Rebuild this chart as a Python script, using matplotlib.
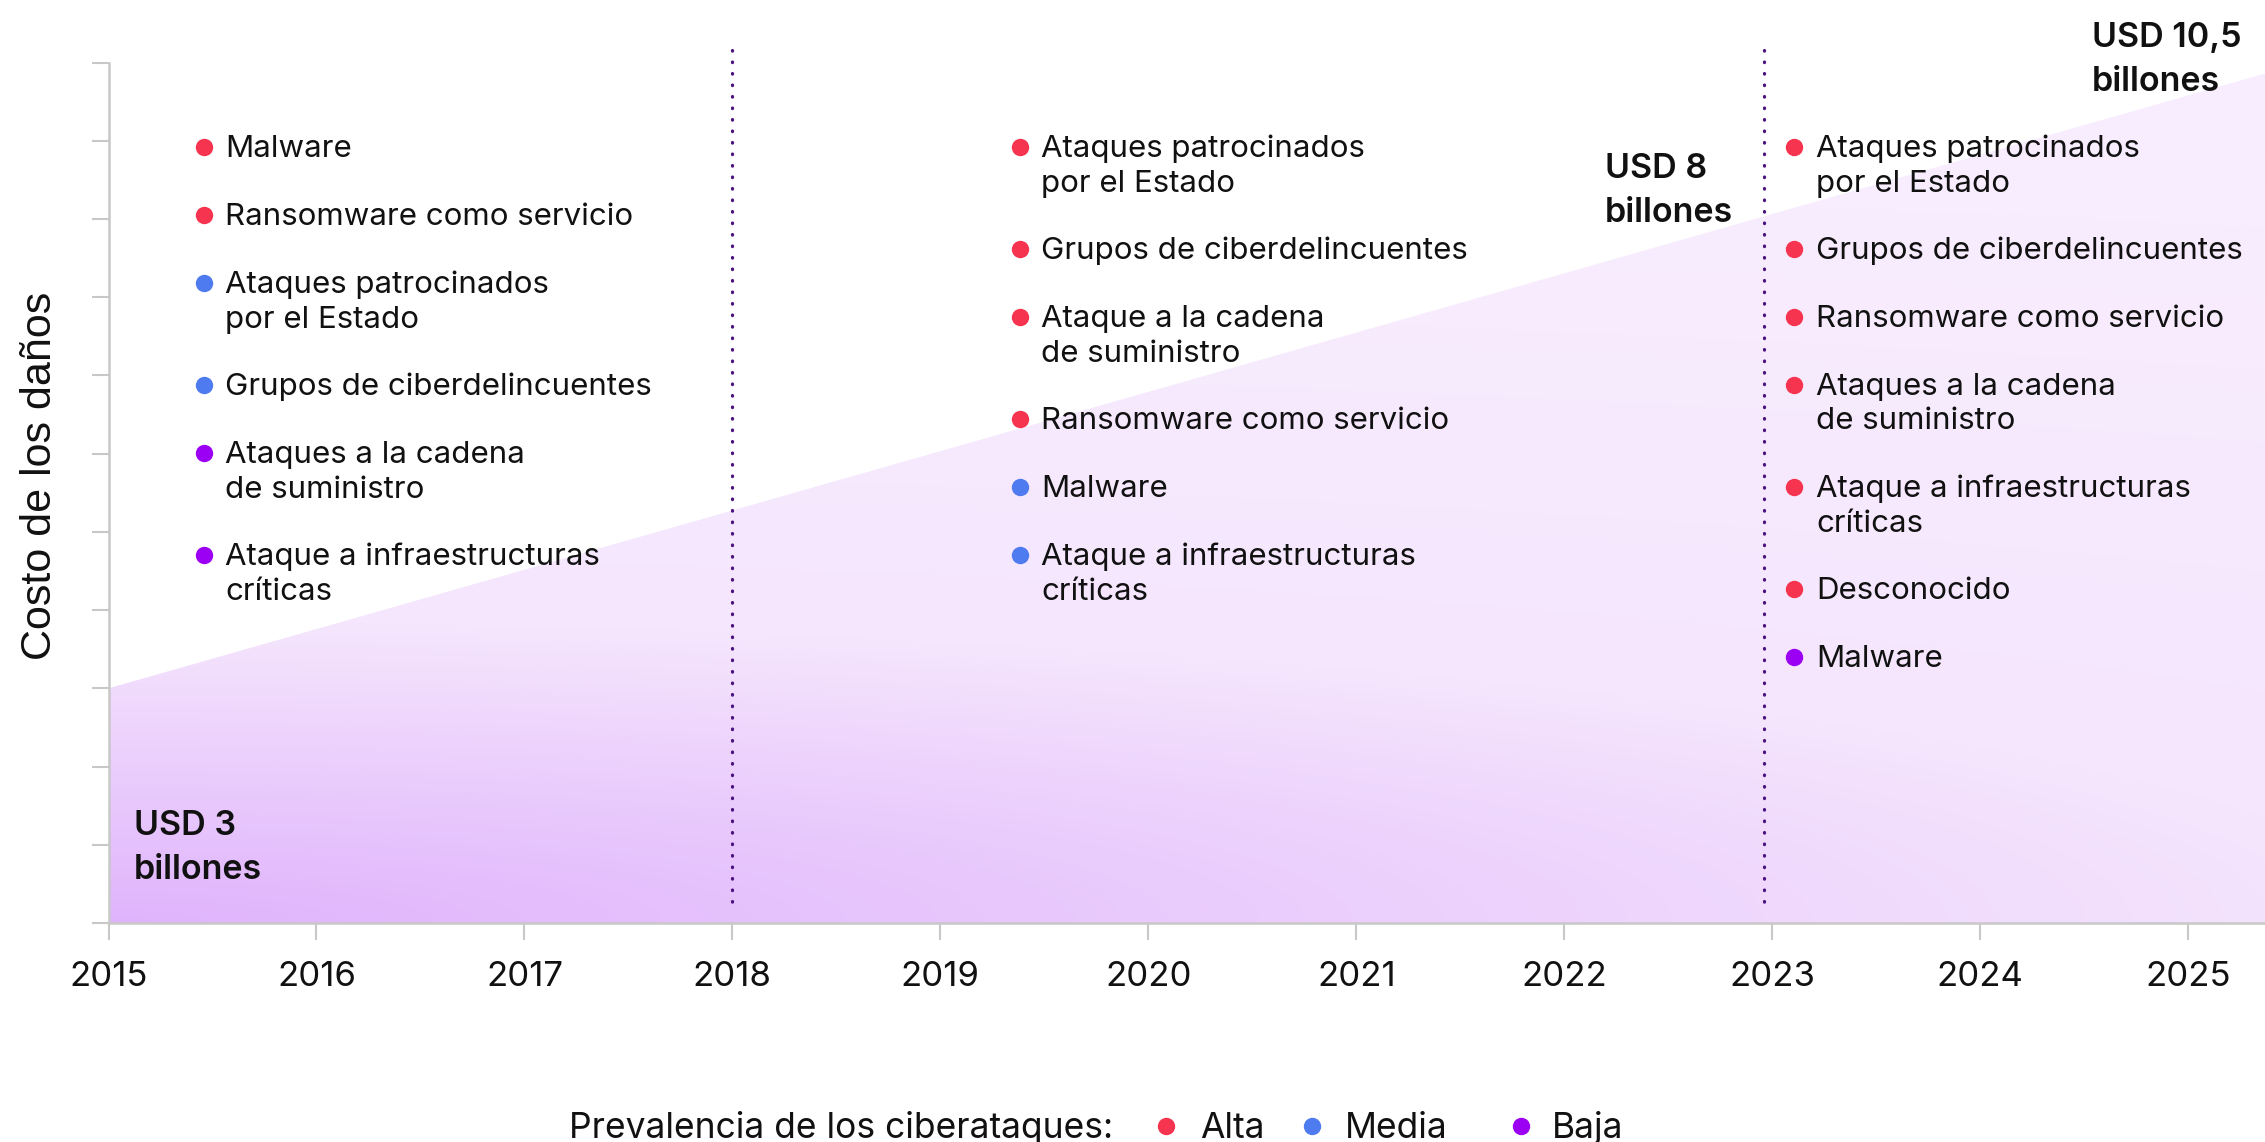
import numpy as np
import matplotlib
matplotlib.use("Agg")
import matplotlib.pyplot as plt
from matplotlib.patches import Polygon

plt.rcParams["font.family"] = ["Inter", "DejaVu Sans"]

# Data
years = list(range(2015, 2026))
area_years = [2015, 2025.37]
area_cost = [3.0, 10.86]
period_marks = [2018.0, 2022.96]

cost_labels = ["USD 3\nbillones", "USD 8\nbillones", "USD 10,5\nbillones"]

col1_items = [
    "Malware",
    "Ransomware como servicio",
    "Ataques patrocinados\npor el Estado",
    "Grupos de ciberdelincuentes",
    "Ataques a la cadena\nde suministro",
    "Ataque a infraestructuras\ncríticas",
]
col1_levels = ["Alta", "Alta", "Media", "Media", "Baja", "Baja"]

col2_items = [
    "Ataques patrocinados\npor el Estado",
    "Grupos de ciberdelincuentes",
    "Ataque a la cadena\nde suministro",
    "Ransomware como servicio",
    "Malware",
    "Ataque a infraestructuras\ncríticas",
]
col2_levels = ["Alta", "Alta", "Alta", "Alta", "Media", "Media"]

col3_items = [
    "Ataques patrocinados\npor el Estado",
    "Grupos de ciberdelincuentes",
    "Ransomware como servicio",
    "Ataques a la cadena\nde suministro",
    "Ataque a infraestructuras\ncríticas",
    "Desconocido",
    "Malware",
]
col3_levels = ["Alta", "Alta", "Alta", "Alta", "Alta", "Alta", "Baja"]

legend_levels = ["Alta", "Media", "Baja"]

level_colors = {"Alta": "#f7344f", "Media": "#4f7bf0", "Baja": "#9b00f5"}

W, H = 2265, 1142


def fx(px):
    return px / W


def fy(py):
    return 1 - py / H


fig = plt.figure(figsize=(W / 100, H / 100), dpi=100)
ax = fig.add_axes([fx(108.5), 219 / H, 1 - fx(108.5), 923 / H])
ax.set_xlim(2015, 2025.37)
ax.set_ylim(0, 11.80)

# gradient fill under the line
nx, ny = 600, 300
gx = np.linspace(0, 2156, nx)
gy = np.linspace(0, 923, ny)
GX, GY = np.meshgrid(gx, gy)
t = np.sqrt((GX / 2300) ** 2 + (GY / 300) ** 2)
nodes = [0, 1, 2.5]
cr = np.interp(t, nodes, [224, 245, 248])
cg = np.interp(t, nodes, [180, 230, 237])
cb = np.interp(t, nodes, [252, 253, 254])
img = np.dstack([cr, cg, cb]) / 255.0
im = ax.imshow(img, extent=(2015, 2025.37, 0, 11.80), origin="lower",
               aspect="auto", zorder=1, interpolation="bilinear")
verts = [(area_years[0], 0)] + list(zip(area_years, area_cost)) + [(area_years[-1], 0)]
poly = Polygon(verts, closed=True, facecolor="none", edgecolor="none",
               transform=ax.transData)
ax.add_patch(poly)
im.set_clip_path(poly)

# period separators (drawn top-down so the first dot sits at the top)
for xm in period_marks:
    ax.plot([xm, xm], [11.16, 0.18], color="#4b1280", lw=2.3,
            linestyle=(0, (0.2, 3.4)), dash_capstyle="round", zorder=3,
            clip_on=False)

# axes styling
for s in ["top", "right"]:
    ax.spines[s].set_visible(False)
for s in ["left", "bottom"]:
    ax.spines[s].set_color("#c8c8c8")
    ax.spines[s].set_linewidth(1.8)
    ax.spines[s].set_zorder(4)
ax.spines["left"].set_bounds(0, 11)
ax.set_yticks(range(0, 12))
ax.set_yticklabels([])
ax.set_xticks(years)
ax.set_xticklabels([str(y) for y in years], fontsize=25, color="#111111")
ax.tick_params(axis="y", length=12.5, width=1.5, color="#c8c8c8")
ax.tick_params(axis="x", length=12, width=1.5, color="#c8c8c8", pad=15)

fig.text(fx(40), fy(476), "Costo de los daños", rotation=90, ha="center",
         va="center", fontsize=31, family=["Liberation Sans", "DejaVu Sans"],
         color="#111111")

# cost annotations
label_pos = [(134, 826), (1605, 169), (2092, 38)]
for lab, (px, py) in zip(cost_labels, label_pos):
    for k, line in enumerate(lab.split("\n")):
        fig.text(fx(px), fy(py + k * 44), line, ha="left", va="center",
                 fontsize=24.5, fontweight="semibold", color="#111111")

# attack lists
columns = [
    (col1_items, col1_levels, 204, 225),
    (col2_items, col2_levels, 1020, 1041),
    (col3_items, col3_levels, 1794, 1816),
]
for items, levels, bx, tx in columns:
    ypos = 147
    for item, lev in zip(items, levels):
        lines = item.split("\n")
        fig.lines.append(plt.Line2D([fx(bx)], [fy(ypos)], marker="o",
                                    markersize=11.5, color=level_colors[lev],
                                    transform=fig.transFigure, zorder=5))
        for k, line in enumerate(lines):
            fig.text(fx(tx), fy(ypos + 2 + k * 34.5), line, ha="left",
                     va="center", fontsize=22.5, color="#111111")
        ypos += 68 + 34 * (len(lines) - 1)

# legend
fig.text(fx(569), fy(1128), "Prevalencia de los ciberataques:", ha="left",
         va="center", fontsize=25.5, color="#111111")
leg_pos = [(1166, 1200), (1312, 1345), (1521, 1552)]
for lev, (bx, tx) in zip(legend_levels, leg_pos):
    fig.lines.append(plt.Line2D([fx(bx)], [fy(1126)], marker="o",
                                markersize=11.5, color=level_colors[lev],
                                transform=fig.transFigure))
    fig.text(fx(tx), fy(1128), lev, ha="left", va="center", fontsize=25.5,
             color="#111111")

fig.savefig("out.png", dpi=100)
